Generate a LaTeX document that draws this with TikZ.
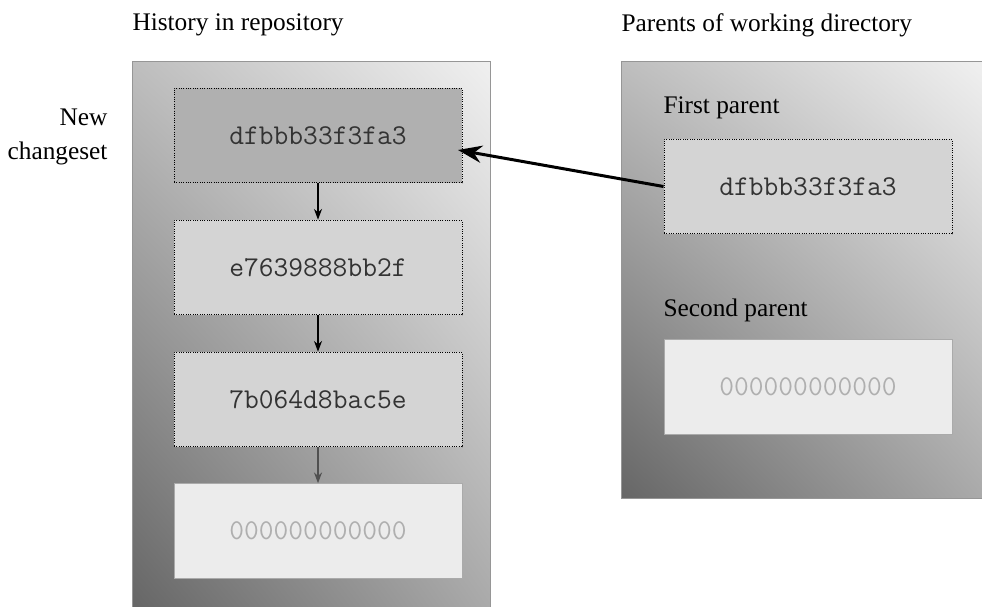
\documentclass[tikz,border=0pt]{standalone}
\usepackage{fontspec}
\setmainfont{Liberation Serif}
\usetikzlibrary{arrows.meta,shadings}

\definecolor{paneldark}{RGB}{102,102,102}
\definecolor{panelmid}{RGB}{170,170,170}
\definecolor{panelup}{RGB}{190,190,190}
\definecolor{panellight}{RGB}{240,240,240}
\definecolor{headfill}{RGB}{176,176,176}
\definecolor{hashfill}{RGB}{212,212,212}
\definecolor{nullfill}{RGB}{236,236,236}
\definecolor{hashtext}{RGB}{51,51,51}
\definecolor{nulltext}{RGB}{175,175,175}

\tikzset{every picture/.style={line width=0.75pt}}
\tikzset{
	panel/.style={upper left=panelup, upper right=panellight, lower left=paneldark, lower right=panelmid},
	hashbox/.style={draw=black, densely dotted, fill=hashfill, minimum width=216pt, minimum height=71pt,
		inner sep=0pt, text=hashtext, font=\ttfamily\fontsize{21.5}{24}\selectfont},
	nullbox/.style={hashbox, solid, draw={rgb,255:red,170;green,170;blue,170}, fill=nullfill, text=nulltext},
	caption/.style={font=\fontsize{19}{25}\selectfont, inner sep=0pt},
	parentlink/.style={-{Stealth[length=18pt,width=13pt,inset=6pt]}, line width=2.25pt},
	childlink/.style={-{Stealth[length=8pt,width=6pt,inset=2.5pt]}, line width=1pt}}

\begin{document}
\begin{tikzpicture}[x=0.75pt,y=0.75pt,yscale=-1,xscale=1]
	\useasboundingbox (0,0) rectangle (982,607);

	%Shape: Panels
	\shade [panel] (132,61) rectangle (490,607);
	\draw [draw={rgb,255:red,150;green,150;blue,150}] (132,607) -- (132,61) -- (490,61) -- (490,607);
	\shade [panel] (621,61) rectangle (982,498);
	\draw [draw={rgb,255:red,150;green,150;blue,150}] (621,61) rectangle (982,498);

	% Text Node
	\node [caption, anchor=west] (histtitle) at (132,25) {History in repository};
	% Text Node
	\node [caption, anchor=west] (partitle) at (621,25) {Parents of working directory};
	% Text Node
	\node [caption, anchor=east, align=right] (newlabel) at (108,137) {New\\changeset};

	%History boxes
	\node [hashbox, fill=headfill] (head) at (318,135.5) {dfbbb33f3fa3};
	\node [hashbox] (second) at (318,267.5) {e7639888bb2f};
	\node [hashbox] (third) at (318,399.5) {7b064d8bac5e};
	\node [nullbox] (root) at (318,531) {000000000000};

	%Parent boxes
	% Text Node
	\node [caption, anchor=west] (firstlabel) at (663,108) {First parent};
	\node [hashbox] (firstpar) at (808,186.5) {dfbbb33f3fa3};
	% Text Node
	\node [caption, anchor=west] (secondlabel) at (663,310) {Second parent};
	\node [nullbox] (secondpar) at (808,387) {000000000000};

	%Links
	\coordinate (headin) at (458,150);
	\draw [childlink] (head) -- (second);
	\draw [childlink] (second) -- (third);
	\draw [childlink, draw={rgb,255:red,80;green,80;blue,80}] (third) -- (root);
	\draw [parentlink] (firstpar.west) -- (headin);

\end{tikzpicture}
\end{document}
